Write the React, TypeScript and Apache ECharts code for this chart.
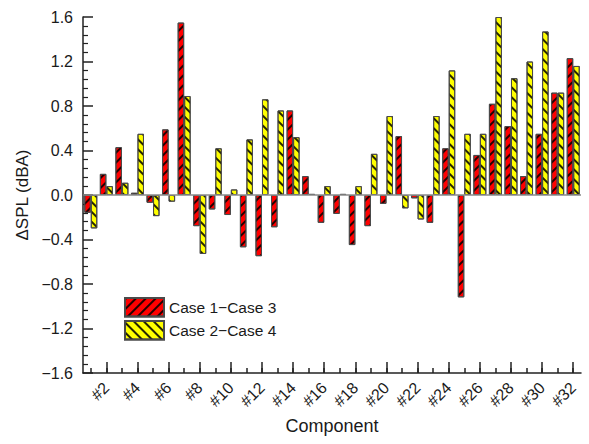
import React, { useEffect, useRef } from "react";
import * as echarts from "echarts";

const categories = Array.from({ length: 32 }, (_, i) => `#${i + 1}`);
const case13 = [-0.16, 0.19, 0.43, 0.02, -0.07, 0.59, 1.55, -0.28, -0.13, -0.18, -0.47, -0.55, -0.29, 0.76, 0.17, -0.25, -0.17, -0.45, -0.28, -0.08, 0.53, -0.03, -0.25, 0.42, -0.92, 0.36, 0.82, 0.62, 0.17, 0.55, 0.92, 1.23];
const case24 = [-0.30, 0.08, 0.11, 0.55, -0.19, -0.06, 0.89, -0.53, 0.42, 0.05, 0.50, 0.86, 0.76, 0.52, 0.01, 0.08, 0.01, 0.08, 0.37, 0.71, -0.12, -0.22, 0.71, 1.12, 0.55, 0.55, 1.60, 1.05, 1.20, 1.47, 0.92, 1.16];
const seriesNames = ["Case 1\u2212Case 3", "Case 2\u2212Case 4"];

const FONT = 'Arial, "Liberation Sans", Helvetica, sans-serif';
const TEXT = "#1a1a1a";
const AXIS = "#222";

export default function App() {
  const ref = useRef<HTMLDivElement>(null);
  useEffect(() => {
    if (!ref.current) return;
    const chart = echarts.init(ref.current, null, { renderer: "svg" });
    const stripe = (rot: number) => ({
      symbol: "rect",
      symbolSize: 1,
      dashArrayX: [1, 0],
      dashArrayY: [1.5, 4.6],
      rotation: rot,
      color: "rgba(0,0,0,0.85)",
    });
    const xBase = {
      type: "category" as const,
      data: categories,
      position: "bottom" as const,
      boundaryGap: true,
    };
    chart.setOption({
      animation: false,
      textStyle: { fontFamily: FONT },
      grid: { left: 83, right: 8, top: 17, bottom: 71, containLabel: false },
      legend: {
        orient: "vertical",
        left: 124,
        top: 297,
        padding: 0,
        icon: "rect",
        itemWidth: 39,
        itemHeight: 18.5,
        itemGap: 2.5,
        textStyle: { fontFamily: FONT, fontSize: 15.5, color: TEXT },
        data: seriesNames,
      },
      xAxis: [
        {
          ...xBase,
          name: "Component",
          nameLocation: "middle",
          nameGap: 44,
          nameTextStyle: { fontFamily: FONT, fontSize: 18, color: TEXT },
          axisLine: { show: true, onZero: false, lineStyle: { color: AXIS, width: 1.5 } },
          axisTick: {
            show: true,
            inside: true,
            length: 11,
            alignWithLabel: true,
            interval: (i: number) => i % 2 === 1,
            lineStyle: { color: AXIS, width: 1.5 },
          },
          axisLabel: {
            show: true,
            interval: (i: number) => i % 2 === 1,
            rotate: 45,
            margin: 12,
            fontFamily: FONT,
            fontSize: 16,
            color: TEXT,
          },
          splitLine: { show: false },
        },
        {
          ...xBase,
          axisLine: { show: false, onZero: false },
          axisTick: {
            show: true,
            inside: true,
            length: 5,
            alignWithLabel: true,
            interval: 0,
            lineStyle: { color: AXIS, width: 1.5 },
          },
          axisLabel: { show: false },
          splitLine: { show: false },
        },
      ],
      yAxis: {
        type: "value",
        min: -1.6,
        max: 1.6,
        interval: 0.4,
        name: "\u0394SPL (dBA)",
        nameLocation: "middle",
        nameGap: 47,
        nameTextStyle: { fontFamily: FONT, fontSize: 17, color: TEXT },
        axisLine: { show: true, lineStyle: { color: AXIS, width: 1.5 } },
        axisTick: { show: true, inside: true, length: 10, lineStyle: { color: AXIS, width: 1.5 } },
        minorTick: { show: true, splitNumber: 5, length: 5, lineStyle: { color: AXIS, width: 1.2 } },
        splitLine: { show: false },
        axisLabel: {
          margin: 10,
          fontFamily: FONT,
          fontSize: 16,
          color: TEXT,
          formatter: (v: number) => v.toFixed(1).replace("-", "\u2212"),
        },
      },
      series: [
        {
          name: seriesNames[0],
          type: "bar",
          xAxisIndex: 0,
          data: case13,
          barWidth: 6.5,
          barGap: "0%",
          itemStyle: {
            color: "#ff0000",
            borderColor: "#4a4a4a",
            borderWidth: 1,
            decal: stripe(-Math.PI / 4),
          },
          markLine: {
            silent: true,
            symbol: "none",
            label: { show: false },
            lineStyle: { color: "#8a8a8a", type: "solid", width: 1.5 },
            data: [{ yAxis: 0 }],
          },
        },
        {
          name: seriesNames[1],
          type: "bar",
          xAxisIndex: 0,
          data: case24,
          barWidth: 6.5,
          barGap: "0%",
          itemStyle: {
            color: "#ffff00",
            borderColor: "#4a4a4a",
            borderWidth: 1,
            decal: stripe(Math.PI / 4),
          },
        },
      ],
    });
    return () => chart.dispose();
  }, []);
  return (
    <div
      ref={ref}
      style={{ position: "absolute", left: 0, top: 0, width: 589, height: 444, background: "#fff" }}
    />
  );
}
